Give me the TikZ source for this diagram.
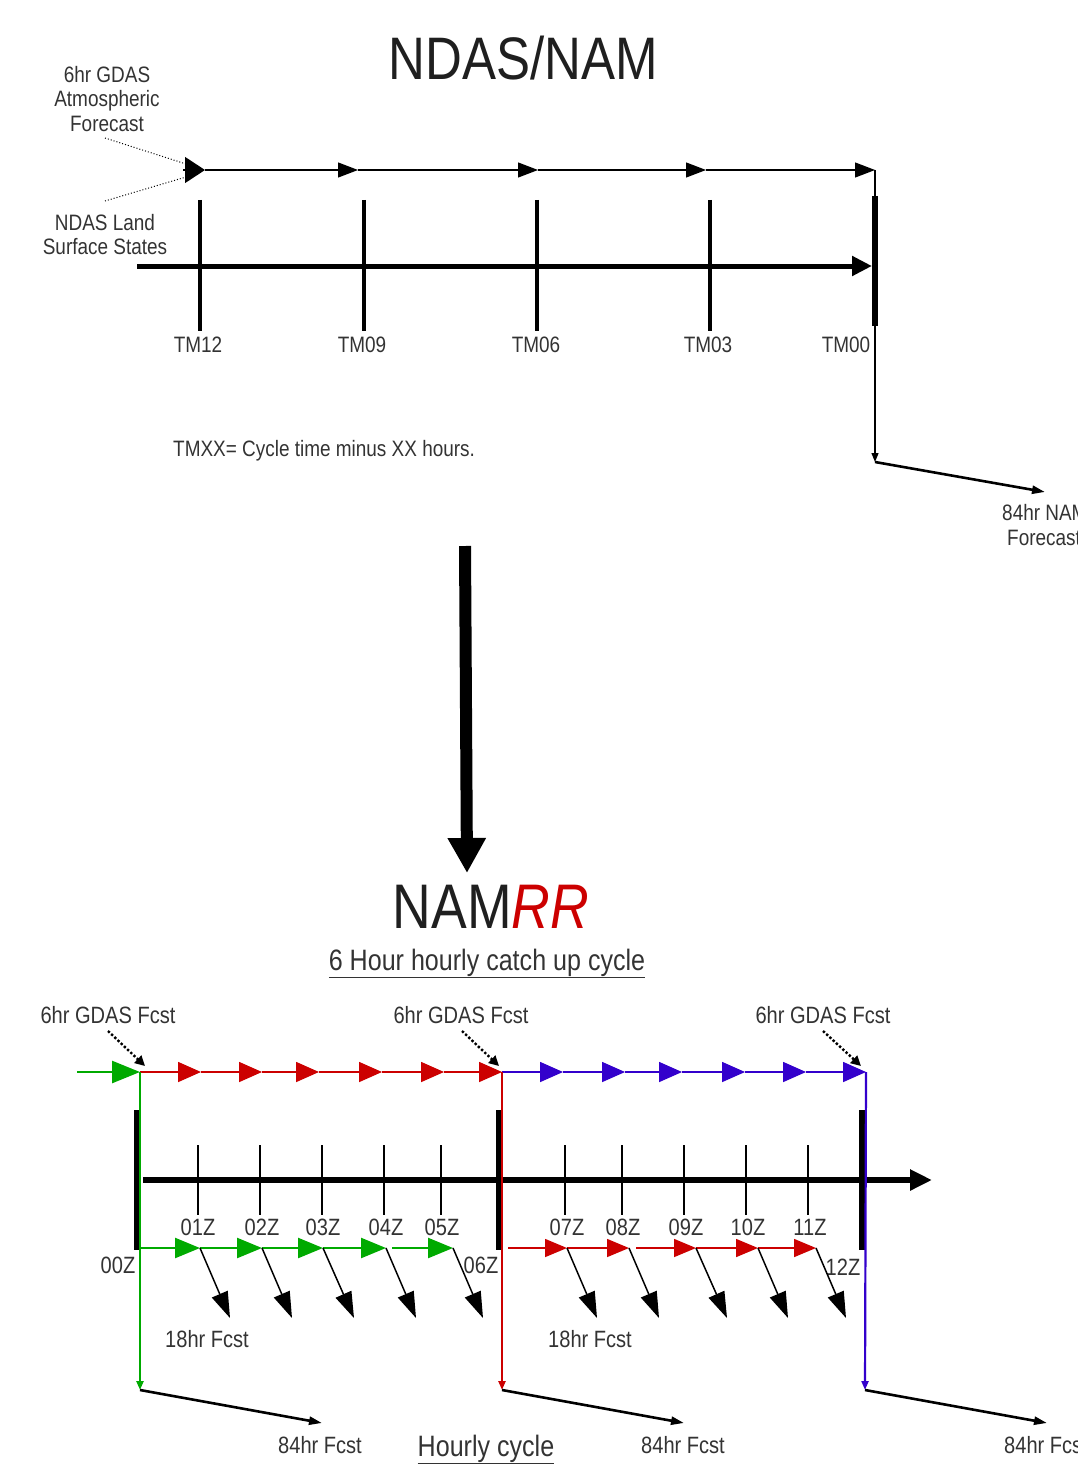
\documentclass[tikz,border=0pt]{standalone}
\usepackage{fontspec}
\setmainfont[FakeStretch=0.85]{Liberation Sans}
\usetikzlibrary{arrows.meta}
\definecolor{cgreen}{RGB}{0,170,0}
\definecolor{cred}{RGB}{204,0,0}
\definecolor{cblue}{RGB}{51,0,204}
\begin{document}
\begin{tikzpicture}[x=1pt,y=-1pt,
  lbl/.style={font=\fontsize{22.3}{24}\selectfont,text=black!80,inner sep=0pt,anchor=base},
  lblb/.style={font=\fontsize{23.6}{25}\selectfont,text=black!80,inner sep=0pt,anchor=base},
  ttl/.style={font=\fontsize{60}{60}\selectfont,text=black!88,inner sep=0pt,anchor=base},
  ulbl/.style={font=\fontsize{29.5}{31}\selectfont,text=black!80,inner sep=0pt,anchor=base},
  toptri/.style={line width=1.2,-{Triangle[length=20pt,width=15pt]}},
  redarr/.style={cred,line width=1.6,-{Triangle[length=23pt,width=20pt]}},
  bluearr/.style={cblue,line width=1.6,-{Triangle[length=23pt,width=20pt]}},
  greenarr/.style={cgreen,line width=2.6,-{Triangle[length=28pt,width=22pt]}},
  fcstarr/.style={black,line width=1.5,-{Triangle[length=26pt,width=17pt]}},
  drop/.style={line width=2.2,-{Triangle[length=9pt,width=7pt]}},
  longarr/.style={black,line width=2.6,-{Triangle[length=13pt,width=8pt]}},
  gdasarr/.style={black,line width=2.4,dotted,-{Triangle[length=10pt,width=10pt]}},
  thickbar/.style={black,line width=5.5},
  tick/.style={black,line width=2},
]
\useasboundingbox (0,0) rectangle (1078,1466);

% ================= NDAS/NAM =================
\node[ttl] (title1) at (523,80) {NDAS/NAM};

\coordinate (t0) at (183,170);
\coordinate (t1) at (205,170);
\coordinate (t2) at (358,170);
\coordinate (t3) at (538,170);
\coordinate (t4) at (706,170);
\coordinate (t5) at (875,170);
\draw[line width=1.2,-{Triangle[length=20pt,width=26pt]}] (t0) -- (t1);
\draw[toptri] (t1) -- (t2);
\draw[toptri] (t2) -- (t3);
\draw[toptri] (t3) -- (t4);
\draw[toptri] (t4) -- (t5);

% dotted inputs
\coordinate (d1) at (105,138);
\coordinate (d2) at (105,201);
\coordinate (d1e) at (186,164);
\coordinate (d2e) at (186,177);
\draw[dotted,line width=1] (d1) -- (d1e);
\draw[dotted,line width=1] (d2) -- (d2e);

\node[lbl] (ga1) at (107,83) {6hr GDAS};
\node[lbl] (ga2) at (107,107) {Atmospheric};
\node[lbl] (ga3) at (107,132) {Forecast};
\node[lbl] (nl1) at (105,230) {NDAS Land};
\node[lbl] (nl2) at (105,254) {Surface States};

% timeline
\coordinate (tl0) at (137,266);
\coordinate (tl1) at (872,266);
\draw[line width=5,-{Triangle[length=20pt,width=19pt]}] (tl0) -- (tl1);
\foreach \x/\n in {200/a,364/b,537/c,710/d}{
  \coordinate (tk\n1) at (\x,200);
  \coordinate (tk\n2) at (\x,331);
  \draw[line width=4] (tk\n1) -- (tk\n2);
}
\coordinate (tke1) at (875,196);
\coordinate (tke2) at (875,326);
\draw[line width=6] (tke1) -- (tke2);

\node[lbl] (tm12) at (198,352) {TM12};
\node[lbl] (tm09) at (362,352) {TM09};
\node[lbl] (tm06) at (536,352) {TM06};
\node[lbl] (tm03) at (708,352) {TM03};
\node[lbl] (tm00) at (846,352) {TM00};

\node[lbl,anchor=base west] (tmxx) at (173,456) {TMXX= Cycle time minus XX hours.};

% forecast drop
\coordinate (fc) at (875,462);
\coordinate (fe) at (1045,492);
\draw[line width=1.3,-{Triangle[length=9pt,width=7pt]}] (t5) -- (fc);
\draw[longarr] (fc) -- (fe);
\node[lbl,anchor=base west] (nam1) at (1002,520) {84hr NAM};
\node[lbl,anchor=base west] (nam2) at (1007,545) {Forecast};

% big arrow
\coordinate (ba0) at (465,546);
\coordinate (ba1) at (467,873);
\draw[line width=12,-{Triangle[length=35pt,width=36pt]}] (ba0) -- (ba1);

% ================= NAMRR =================
\node[ttl,font=\fontsize{63}{63}\selectfont] (title2) at (491,928) {NAM\textcolor{cred}{\itshape RR}};
\node[ulbl] (sub) at (487,970) {\underline{6 Hour hourly catch up cycle}};

% GDAS labels + dotted arrows
\node[lblb] (gd1) at (108,1023) {6hr GDAS Fcst};
\node[lblb] (gd2) at (461,1023) {6hr GDAS Fcst};
\node[lblb] (gd3) at (823,1023) {6hr GDAS Fcst};
\coordinate (gs1) at (108,1031); \coordinate (ge1) at (145,1066);
\coordinate (gs2) at (462,1031); \coordinate (ge2) at (499,1066);
\coordinate (gs3) at (823,1031); \coordinate (ge3) at (861,1066);
\draw[gdasarr] (gs1) -- (ge1);
\draw[gdasarr] (gs2) -- (ge2);
\draw[gdasarr] (gs3) -- (ge3);

% thick bars (under colored lines)
\coordinate (bar1a) at (137,1110); \coordinate (bar1b) at (137,1250);
\coordinate (bar2a) at (499,1110); \coordinate (bar2b) at (499,1250);
\coordinate (bar3a) at (862,1110); \coordinate (bar3b) at (862,1250);
\draw[thickbar] (bar1a) -- (bar1b);
\draw[thickbar] (bar2a) -- (bar2b);
\draw[thickbar] (bar3a) -- (bar3b);

% main hourly timeline
\coordinate (h0) at (143,1180);
\coordinate (h1) at (932,1180);
\draw[line width=6,-{Triangle[length=22pt,width=20pt]}] (h0) -- (h1);
\foreach \x [count=\i] in {198,260,322,384,441,565,622,684,746,808}{
  \coordinate (hk\i a) at (\x,1145);
  \coordinate (hk\i b) at (\x,1215);
  \draw[tick] (hk\i a) -- (hk\i b);
}
\foreach \x/\t in {198/01Z,262/02Z,323/03Z,386/04Z,442/05Z,567/07Z,623/08Z,686/09Z,748/10Z,810/11Z}{
  \node[lblb] (z\t) at (\x,1235) {\t};
}
\node[lblb] (z00) at (118,1273) {00Z};
\node[lblb] (z06) at (481,1273) {06Z};
\node[lblb] (z12) at (843,1275) {12Z};

% top colored 6-hourly line
\coordinate (g0) at (77,1072);
\coordinate (A0) at (140,1072);
\foreach \x [count=\i] in {201,262,319,382,444,502} \coordinate (R\i) at (\x,1072);
\foreach \x [count=\i] in {563,625,682,745,806,866} \coordinate (B\i) at (\x,1072);
\draw[greenarr] (g0) -- (A0);
\draw[redarr] (A0) -- (R1);
\foreach \i/\j in {1/2,2/3,3/4,4/5,5/6} \draw[redarr] (R\i) -- (R\j);
\draw[bluearr] (R6) -- (B1);
\foreach \i/\j in {1/2,2/3,3/4,4/5,5/6} \draw[bluearr] (B\i) -- (B\j);

% vertical drops to 84hr forecasts
\coordinate (gc) at (140,1390); \coordinate (gf) at (322,1423);
\coordinate (rc) at (502,1390); \coordinate (rf) at (684,1423);
\coordinate (bc) at (865,1390); \coordinate (bf) at (1047,1423);
\draw[drop,cgreen] (A0) -- (gc);
\draw[drop,cred] (R6) -- (rc);
\draw[drop,cblue] (B6) -- (bc);
\draw[longarr] (gc) -- (gf);
\draw[longarr] (rc) -- (rf);
\draw[longarr] (bc) -- (bf);

% hourly green line
\coordinate (G0) at (140,1248);
\foreach \x [count=\i] in {200,262,323,386} \coordinate (G\i) at (\x,1248);
\coordinate (G4s) at (392,1248);
\coordinate (G5) at (453,1248);
\draw[cgreen,line width=2.4,-{Triangle[length=25pt,width=20pt]}] (G0) -- (G1);
\foreach \i/\j in {1/2,2/3,3/4} \draw[cgreen,line width=2.4,-{Triangle[length=25pt,width=20pt]}] (G\i) -- (G\j);
\draw[cgreen,line width=2.4,-{Triangle[length=25pt,width=20pt]}] (G4s) -- (G5);

% hourly red line
\coordinate (H0) at (508,1248);
\coordinate (H1) at (567,1248);
\coordinate (H2) at (629,1248);
\coordinate (H2s) at (636,1248);
\coordinate (H3) at (696,1248);
\coordinate (H4) at (758,1248);
\coordinate (H5) at (816,1248);
\draw[redarr,-{Triangle[length=22pt,width=18pt]}] (H0) -- (H1);
\draw[redarr,-{Triangle[length=22pt,width=18pt]}] (H1) -- (H2);
\draw[redarr,-{Triangle[length=22pt,width=18pt]}] (H2s) -- (H3);
\draw[redarr,-{Triangle[length=22pt,width=18pt]}] (H3) -- (H4);
\draw[redarr,-{Triangle[length=22pt,width=18pt]}] (H4) -- (H5);

% 18hr forecast arrows
\foreach \n/\x in {1/230,2/292,3/354,4/416,5/483} \coordinate (Gt\n) at (\x,1318);
\foreach \n/\x in {1/597,2/659,3/727,4/788,5/846} \coordinate (Ht\n) at (\x,1318);
\draw[fcstarr] (G1) -- (Gt1);
\draw[fcstarr] (G2) -- (Gt2);
\draw[fcstarr] (G3) -- (Gt3);
\draw[fcstarr] (G4) -- (Gt4);
\draw[fcstarr] (G5) -- (Gt5);
\draw[fcstarr] (H1) -- (Ht1);
\draw[fcstarr] (H2) -- (Ht2);
\draw[fcstarr] (H3) -- (Ht3);
\draw[fcstarr] (H4) -- (Ht4);
\draw[fcstarr] (H5) -- (Ht5);

\node[lblb] (f18a) at (207,1347) {18hr Fcst};
\node[lblb] (f18b) at (590,1347) {18hr Fcst};
\node[lblb] (f84a) at (320,1453) {84hr Fcst};
\node[lblb] (f84b) at (683,1453) {84hr Fcst};
\node[lblb,anchor=base west] (f84c) at (1004,1453) {84hr Fcst};
\node[ulbl] (hc) at (486,1456) {\underline{Hourly cycle}};
\end{tikzpicture}
\end{document}
